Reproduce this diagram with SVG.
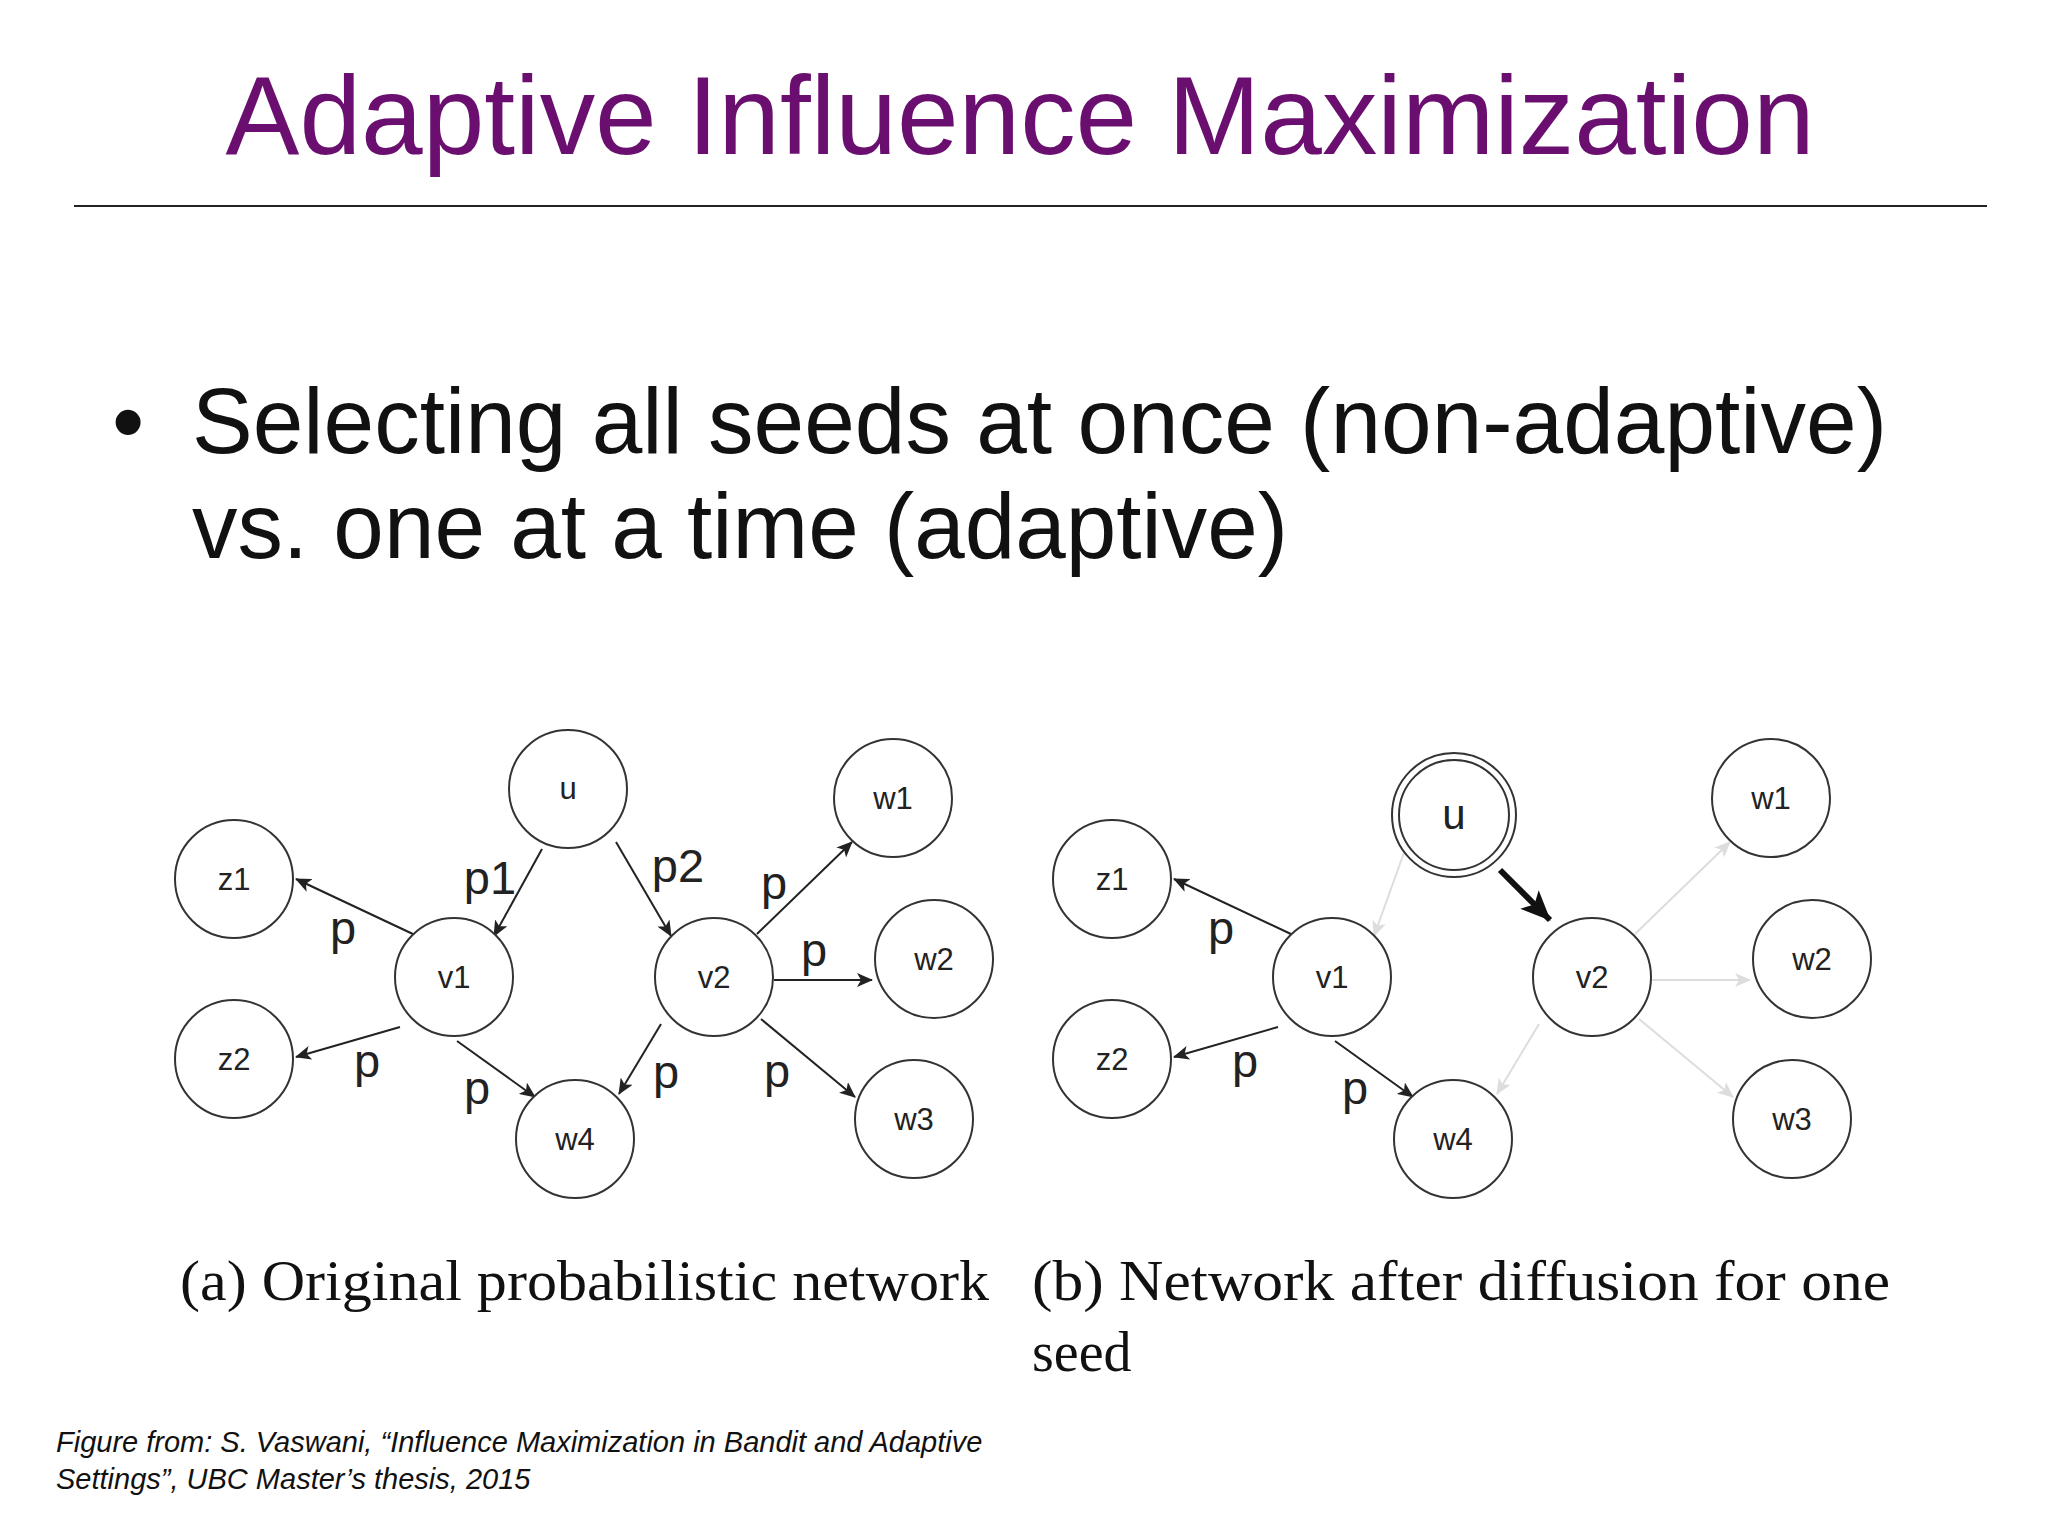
<svg xmlns="http://www.w3.org/2000/svg" width="2048" height="1536" viewBox="0 0 2048 1536">
<defs>
<style>
.n{fill:#fff;stroke:#333;stroke-width:2}
.nl{font-family:"Liberation Sans",Arial,sans-serif;font-size:31px;fill:#222;text-anchor:middle}
.e{stroke:#222;stroke-width:2;fill:none;marker-end:url(#a)}
.g{stroke:#ddd;stroke-width:2;fill:none;marker-end:url(#ag)}
.p{font-family:"Liberation Sans",Arial,sans-serif;font-size:47px;fill:#222;text-anchor:middle}
.cap{font-family:"Liberation Serif","Times New Roman",serif;font-size:56px;fill:#111}
</style>
<marker id="a" markerUnits="userSpaceOnUse" markerWidth="16" markerHeight="14" refX="15" refY="7" orient="auto"><path d="M0,0 L16,7 L0,14 L4,7 Z" fill="#222"/></marker>
<marker id="ag" markerUnits="userSpaceOnUse" markerWidth="16" markerHeight="14" refX="15" refY="7" orient="auto"><path d="M0,0 L16,7 L0,14 L4,7 Z" fill="#ddd"/></marker>
<marker id="ab" markerUnits="userSpaceOnUse" markerWidth="30" markerHeight="26" refX="29" refY="13" orient="auto"><path d="M0,0 L30,13 L0,26 L7,13 Z" fill="#111"/></marker>
</defs>
<rect width="2048" height="1536" fill="#fff"/>
<text x="1020" y="154" text-anchor="middle" font-family="Liberation Sans,Arial,sans-serif" font-size="112" fill="#6a0f6f" textLength="1589" lengthAdjust="spacingAndGlyphs">Adaptive Influence Maximization</text>
<line x1="74" y1="206" x2="1987" y2="206" stroke="#222" stroke-width="2"/>
<text x="112" y="453" font-family="Liberation Sans,Arial,sans-serif" font-size="92" fill="#111">•</text>
<text x="192" y="453" font-family="Liberation Sans,Arial,sans-serif" font-size="92" fill="#111" textLength="1695" lengthAdjust="spacingAndGlyphs">Selecting all seeds at once (non-adaptive)</text>
<text x="192" y="558" font-family="Liberation Sans,Arial,sans-serif" font-size="92" fill="#111" textLength="1096" lengthAdjust="spacingAndGlyphs">vs. one at a time (adaptive)</text>

<g id="connectors">
<line class="e" x1="542" y1="849" x2="494" y2="936"/>
<line class="e" x1="616" y1="842" x2="671" y2="936"/>
<line class="e" x1="415" y1="935" x2="296" y2="879"/>
<line class="e" x1="400" y1="1027" x2="296" y2="1057"/>
<line class="e" x1="457" y1="1041" x2="535" y2="1097"/>
<line class="e" x1="661" y1="1024" x2="619" y2="1094"/>
<line class="e" x1="757" y1="934" x2="852" y2="842"/>
<line class="e" x1="774" y1="980" x2="872" y2="980"/>
<line class="e" x1="761" y1="1019" x2="855" y2="1097"/>
<line class="g" x1="1410" y1="836" x2="1374" y2="936"/>
<line class="e" x1="1293" y1="935" x2="1174" y2="879"/>
<line class="e" x1="1278" y1="1027" x2="1174" y2="1057"/>
<line class="e" x1="1335" y1="1041" x2="1413" y2="1097"/>
<line class="g" x1="1539" y1="1024" x2="1497" y2="1094"/>
<line class="g" x1="1635" y1="934" x2="1730" y2="842"/>
<line class="g" x1="1652" y1="980" x2="1750" y2="980"/>
<line class="g" x1="1639" y1="1019" x2="1733" y2="1097"/>
<line x1="1500" y1="870" x2="1550" y2="920" stroke="#111" stroke-width="6" marker-end="url(#ab)"/>
<text class="p" x="490" y="894">p1</text>
<text class="p" x="678" y="882">p2</text>
<text class="p" x="343" y="944">p</text>
<text class="p" x="367" y="1077">p</text>
<text class="p" x="477" y="1104">p</text>
<text class="p" x="666" y="1088">p</text>
<text class="p" x="774" y="899">p</text>
<text class="p" x="814" y="966">p</text>
<text class="p" x="777" y="1087">p</text>
<text class="p" x="1221" y="944">p</text>
<text class="p" x="1245" y="1077">p</text>
<text class="p" x="1355" y="1104">p</text>
</g>

<g id="a-u"><circle class="n" cx="568" cy="789" r="59"/><text class="nl" x="568" y="799">u</text></g>
<g id="a-z1"><circle class="n" cx="234" cy="879" r="59"/><text class="nl" x="234" y="890">z1</text></g>
<g id="a-z2"><circle class="n" cx="234" cy="1059" r="59"/><text class="nl" x="234" y="1070">z2</text></g>
<g id="a-v1"><circle class="n" cx="454" cy="977" r="59"/><text class="nl" x="454" y="988">v1</text></g>
<g id="a-v2"><circle class="n" cx="714" cy="977" r="59"/><text class="nl" x="714" y="988">v2</text></g>
<g id="a-w1"><circle class="n" cx="893" cy="798" r="59"/><text class="nl" x="893" y="809">w1</text></g>
<g id="a-w2"><circle class="n" cx="934" cy="959" r="59"/><text class="nl" x="934" y="970">w2</text></g>
<g id="a-w3"><circle class="n" cx="914" cy="1119" r="59"/><text class="nl" x="914" y="1130">w3</text></g>
<g id="a-w4"><circle class="n" cx="575" cy="1139" r="59"/><text class="nl" x="575" y="1150">w4</text></g>

<g id="b-u"><circle class="n" cx="1454" cy="815" r="62"/><circle class="n" cx="1454" cy="815" r="55"/><text class="nl" x="1454" y="829" style="font-size:42px">u</text></g>
<g id="b-z1"><circle class="n" cx="1112" cy="879" r="59"/><text class="nl" x="1112" y="890">z1</text></g>
<g id="b-z2"><circle class="n" cx="1112" cy="1059" r="59"/><text class="nl" x="1112" y="1070">z2</text></g>
<g id="b-v1"><circle class="n" cx="1332" cy="977" r="59"/><text class="nl" x="1332" y="988">v1</text></g>
<g id="b-v2"><circle class="n" cx="1592" cy="977" r="59"/><text class="nl" x="1592" y="988">v2</text></g>
<g id="b-w1"><circle class="n" cx="1771" cy="798" r="59"/><text class="nl" x="1771" y="809">w1</text></g>
<g id="b-w2"><circle class="n" cx="1812" cy="959" r="59"/><text class="nl" x="1812" y="970">w2</text></g>
<g id="b-w3"><circle class="n" cx="1792" cy="1119" r="59"/><text class="nl" x="1792" y="1130">w3</text></g>
<g id="b-w4"><circle class="n" cx="1453" cy="1139" r="59"/><text class="nl" x="1453" y="1150">w4</text></g>

<text class="cap" x="180" y="1300" textLength="809" lengthAdjust="spacingAndGlyphs">(a)  Original probabilistic network</text>
<text class="cap" x="1032" y="1300" textLength="858" lengthAdjust="spacingAndGlyphs">(b)  Network after diffusion for one</text>
<text class="cap" x="1032" y="1371">seed</text>
<text x="56" y="1452" font-family="Liberation Sans,Arial,sans-serif" font-style="italic" font-size="29" fill="#111">Figure from: S. Vaswani, “Influence Maximization in Bandit and Adaptive</text>
<text x="56" y="1489" font-family="Liberation Sans,Arial,sans-serif" font-style="italic" font-size="29" fill="#111">Settings”, UBC Master’s thesis, 2015</text>
</svg>
